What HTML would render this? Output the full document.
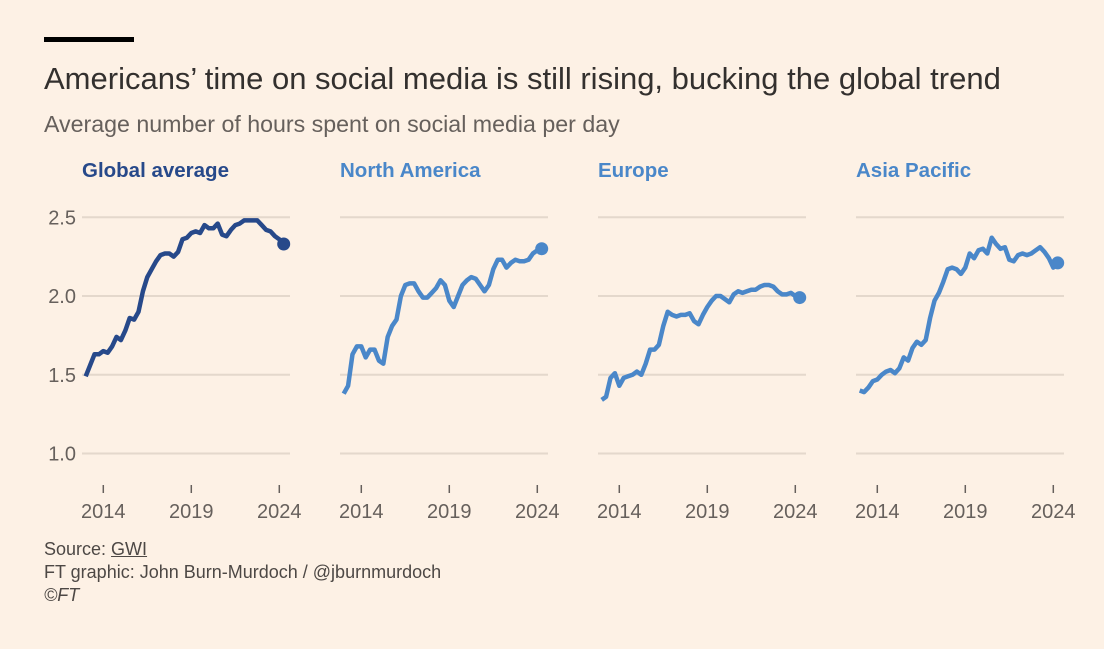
<!DOCTYPE html>
<html><head><meta charset="utf-8">
<style>
html,body{margin:0;padding:0;background:#fdf1e5;}
body{width:1104px;height:649px;position:relative;overflow:hidden;font-family:"Liberation Sans",sans-serif;color:#33302e;}
.bar{position:absolute;left:44px;top:37px;width:90px;height:5px;background:#000;}
.title{position:absolute;left:44px;top:61px;font-size:31px;color:#33302e;white-space:nowrap;}
.sub{position:absolute;left:44px;top:111px;font-size:23.2px;color:#66605c;white-space:nowrap;}
.foot{position:absolute;left:44px;font-size:18px;color:#4d4845;white-space:nowrap;}
</style></head><body>
<div class="bar"></div>
<div class="title">Americans’ time on social media is still rising, bucking the global trend</div>
<div class="sub">Average number of hours spent on social media per day</div>
<svg id="chart" width="1104" height="649" style="position:absolute;left:0;top:0"></svg>
<div class="foot" style="top:539px">Source: <span style="text-decoration:underline">GWI</span></div>
<div class="foot" style="top:562px">FT graphic: John Burn-Murdoch / @jburnmurdoch</div>
<div class="foot" style="top:585px;font-style:italic">©FT</div>
<script>
const regions = ["Global average","North America","Europe","Asia Pacific"];
const colors = ["#27498a","#4a87c9","#4a87c9","#4a87c9"];
const yTicks = [2.5,2.0,1.5,1.0];
const xTicks = [2014,2019,2024];
const startYear = 2013.0;
const global = [1.49,1.56,1.63,1.63,1.65,1.64,1.68,1.74,1.72,1.78,1.86,1.85,1.90,2.03,2.12,2.17,2.22,2.26,2.27,2.27,2.25,2.28,2.36,2.37,2.40,2.41,2.40,2.45,2.43,2.43,2.46,2.39,2.38,2.42,2.45,2.46,2.48,2.48,2.48,2.48,2.45,2.42,2.41,2.38,2.36,2.33];
const northAmerica = [1.38,1.43,1.63,1.68,1.68,1.61,1.66,1.66,1.59,1.57,1.74,1.81,1.85,2.00,2.07,2.08,2.08,2.03,1.99,1.99,2.02,2.05,2.10,2.07,1.97,1.93,2.00,2.07,2.10,2.12,2.11,2.07,2.03,2.07,2.17,2.23,2.23,2.18,2.21,2.23,2.22,2.22,2.23,2.27,2.29,2.30];
const europe = [1.34,1.36,1.48,1.51,1.43,1.48,1.49,1.50,1.52,1.50,1.57,1.66,1.66,1.69,1.81,1.90,1.88,1.87,1.88,1.88,1.89,1.84,1.82,1.88,1.93,1.97,2.00,2.00,1.98,1.96,2.01,2.03,2.02,2.03,2.04,2.04,2.06,2.07,2.07,2.06,2.03,2.01,2.01,2.02,2.00,1.99];
const asiaPacific = [1.40,1.39,1.42,1.46,1.47,1.50,1.52,1.53,1.51,1.54,1.61,1.59,1.67,1.71,1.69,1.72,1.86,1.97,2.02,2.09,2.17,2.18,2.17,2.14,2.18,2.27,2.24,2.29,2.30,2.27,2.37,2.33,2.30,2.31,2.23,2.22,2.26,2.27,2.26,2.27,2.29,2.31,2.28,2.24,2.18,2.21];
const series = [global,northAmerica,europe,asiaPacific];

const NS="http://www.w3.org/2000/svg";
const svg=document.getElementById('chart');
const panelOffset=258;
function yScale(v){return 296-(v-2)*157.5;}
function xScale(yr,p){return 103.3+(yr-2014)*17.6+p*panelOffset;}
function mk(tag,attrs){const e=document.createElementNS(NS,tag);for(const k in attrs)e.setAttribute(k,attrs[k]);svg.appendChild(e);return e;}

series.forEach((data,p)=>{
  const x0=82+p*panelOffset, x1=290+p*panelOffset;
  yTicks.forEach(t=>{
    const g=mk('line',{x1:x0,x2:x1,y1:yScale(t),y2:yScale(t),stroke:'#e4d8cc','stroke-width':2});
    
    
    if(p===0){
      const l=mk('text',{x:76,y:yScale(t)+7,'text-anchor':'end','font-size':20,fill:'#66605c','font-family':'Liberation Sans, sans-serif'});
      l.textContent=t.toFixed(1);
      
      
    }
  });
  xTicks.forEach(yr=>{
    const x=xScale(yr,p);
    const tk=mk('line',{x1:x,x2:x,y1:485,y2:493,stroke:'#66605c','stroke-width':1.5});
    
    
    const l=mk('text',{x:x,y:518,'text-anchor':'middle','font-size':20,fill:'#66605c','font-family':'Liberation Sans, sans-serif'});
    l.textContent=yr;
    
    
  });
  const h=mk('text',{x:82+p*panelOffset,y:177,'font-size':20.5,'font-weight':'bold',fill:colors[p],'font-family':'Liberation Sans, sans-serif'});
  h.textContent=regions[p];
  
  
  const pts=data.map((v,i)=>xScale(startYear+i*0.25,p).toFixed(1)+','+yScale(v).toFixed(1)).join(' ');
  const pl=mk('polyline',{points:pts,fill:'none',stroke:colors[p],'stroke-width':4.5,'stroke-linejoin':'round'});
  
  
  const last=data.length-1;
  const c=mk('circle',{cx:xScale(startYear+last*0.25,p),cy:yScale(data[last]),r:6.5,fill:colors[p]});
  
  
});
</script>
</body></html>
